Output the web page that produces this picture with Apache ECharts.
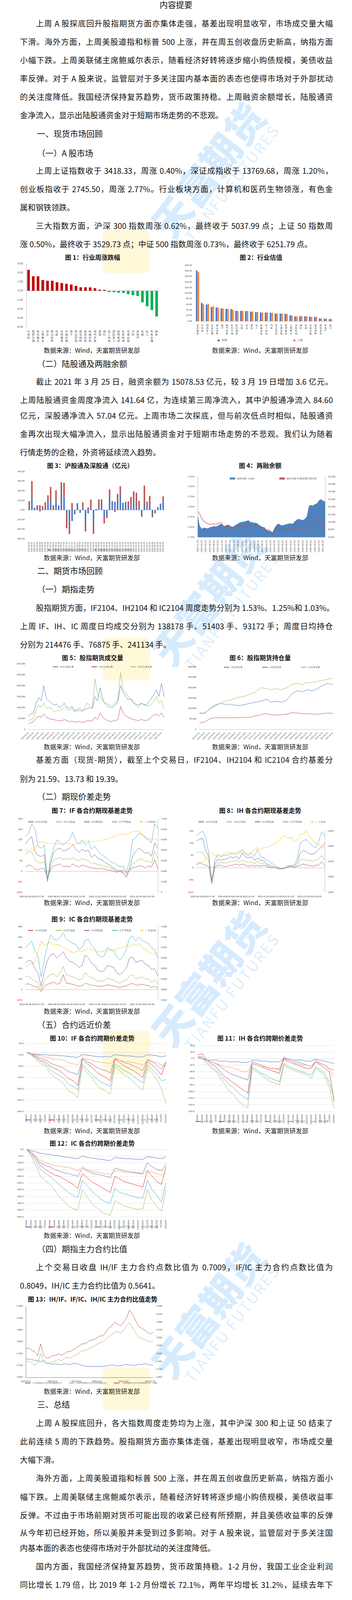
<!DOCTYPE html>
<html><head><meta charset="utf-8">
<script src="https://cdn.jsdelivr.net/npm/echarts@6/dist/echarts.min.js"></script>
<style>
html,body{margin:0;padding:0;background:#fff;}
body{position:relative;width:901px;height:5043px;overflow:hidden;font-family:"Noto Sans CJK SC","Noto Sans",sans-serif;color:#111;}
.ln{position:absolute;left:51px;width:801px;height:30px;line-height:30px;font-size:20px;white-space:nowrap;box-sizing:border-box;z-index:2;}
.j{text-align:justify;text-align-last:justify;}
.ind{padding-left:41px;}
.h{left:95px;width:auto;}
.cap{font-size:16px;font-weight:bold;text-align:center;width:440px;}
.src{font-size:16px;text-align:center;width:440px;}
.dis{font-size:16px;color:#555;height:24px;line-height:24px;}
.dind{padding-left:37px;}
.ch{position:absolute;z-index:1;}
.wm{position:absolute;z-index:0;pointer-events:none;}
</style></head><body>
<script>
const ind1Cats=['计算机','医药生物','纺织服装','公用事业','综合','食品饮料','传媒','休闲服务','非银金融','电子','商业贸易','建筑材料','建筑装饰','机械设备','电气设备','通信','银行','轻工制造','国防军工','家用电器','农林牧渔','交通运输','汽车','房地产','采掘','化工','有色金属','钢铁'];
const ind1Vals=[4.65,3.22,3.2,2.38,2.22,2.22,1.9,1.72,1.55,1.38,1.08,0.78,0.78,0.75,0.58,0.25,0.2,-0.28,-0.3,-0.42,-0.48,-0.75,-0.98,-1.15,-2.55,-3.42,-4.25,-5.7];
const ind2Cats=['休闲服务','计算机','国防军工','有色金属','食品饮料','电子','电气设备','医药生物','纺织服装','传媒','综合','通信','化工','机械设备','轻工制造','汽车','商业贸易','交通运输','家用电器','公用事业','农林牧渔','钢铁','采掘','非银金融','建筑材料','建筑装饰','房地产','银行'];
const peNow=[181,65,59,50,49,45,44,43,37,37,36,34,32,31,31,30,27,27,26,21,17,17,17,16,15,9.5,8.5,7.5];
const pePrev=[175,61,62,54,48,45,44,41,36,36,36,34,33,31,31,30,27,27,26,20,17,18,17,15,15,9.5,9,7.5];

const hsgtDates=['2020-04-03','2020-04-10','2020-04-17','2020-04-24','2020-04-30','2020-05-08','2020-05-15','2020-05-22','2020-05-29','2020-06-05','2020-06-12','2020-06-19','2020-06-24','2020-07-03','2020-07-10','2020-07-17','2020-07-24','2020-07-31','2020-08-07','2020-08-14','2020-08-21','2020-08-28','2020-09-04','2020-09-11','2020-09-18','2020-09-25','2020-09-30','2020-10-16','2020-10-23','2020-10-30','2020-11-06','2020-11-13','2020-11-20','2020-11-27','2020-12-04','2020-12-11','2020-12-18','2020-12-25','2020-12-31','2021-01-08','2021-01-15','2021-01-22','2021-01-29','2021-02-05','2021-02-10','2021-02-19','2021-02-26','2021-03-05','2021-03-12','2021-03-19','2021-03-26'];
const hgtVals=[42,125,18,18,-15,0,28,78,118,0,92,47,178,138,-40,-155,-115,-45,70,-30,18,-135,-35,33,-130,-5,20,72,-70,-55,125,75,85,115,165,75,80,48,25,105,42,10,-55,75,15,42,-50,-5,30,62,85];
const sgtVals=[50,175,5,30,50,40,52,75,122,50,112,0,110,145,-150,-95,72,0,0,0,60,-88,28,75,-118,10,90,38,-70,-30,88,18,-20,52,82,-5,5,40,110,88,138,85,-15,178,72,105,-25,-30,0,5,57];

const marginMonths=['2015-12','2016-01','2016-02','2016-03','2016-04','2016-05','2016-06','2016-07','2016-08','2016-09','2016-10','2016-11','2016-12','2017-01','2017-02','2017-03','2017-04','2017-05','2017-06','2017-07','2017-08','2017-09','2017-10','2017-11','2017-12','2018-01','2018-02','2018-03','2018-04','2018-05','2018-06','2018-07','2018-08','2018-09','2018-10','2018-11','2018-12','2019-01','2019-02','2019-03','2019-04','2019-05','2019-06','2019-07','2019-08','2019-09','2019-10','2019-11','2019-12','2020-01','2020-02','2020-03','2020-04','2020-05','2020-06','2020-07','2020-08','2020-09','2020-10','2020-11','2020-12','2021-01','2021-02','2021-03'];
const marginBal=[11800,9000,8200,8500,8400,8300,8600,8700,8900,8800,9000,9400,9400,8900,9100,9300,9000,8700,8900,9300,9600,9900,10000,10100,10200,10500,10000,9900,9800,9800,9400,9000,8700,8600,7900,7700,7550,7300,8400,9200,9600,9200,9100,9300,9400,9600,9600,9500,10100,10600,10800,10600,10500,10800,11500,14200,14500,14300,14700,14900,15700,16000,15600,15400];
const marginRatio=[2.98,2.85,2.62,2.49,2.42,2.36,2.33,2.33,2.36,2.33,2.36,2.42,2.39,2.19,2.23,2.26,2.16,2.09,2.13,2.19,2.23,2.23,2.26,2.26,2.23,2.26,2.29,2.33,2.29,2.26,2.23,2.19,2.16,2.13,2.06,2.06,2.03,1.83,2.06,2.16,2.09,2.06,2.06,2.09,2.09,2.11,2.09,2.11,2.16,2.26,2.16,2.13,2.16,2.13,2.16,2.36,2.39,2.39,2.42,2.39,2.39,2.42,2.26,2.42];

const futMonths=['2019-01','2019-02','2019-03','2019-04','2019-05','2019-06','2019-07','2019-08','2019-09','2019-10','2019-11','2019-12','2020-01','2020-02','2020-03','2020-04','2020-05','2020-06','2020-07','2020-08','2020-09','2020-10','2020-11','2020-12','2021-01','2021-02','2021-03'];
const volIF=[60,70,75,120,145,130,200,140,130,120,110,115,100,105,120,100,95,105,85,90,95,85,90,95,100,95,150,130,190,140,115,105,100,100,110,130,200,170,150,135,140,120,115,110,120,115,110,125,140,160,180,150,210,150];
const volIH=[25,30,35,50,60,55,70,55,50,45,45,40,40,38,45,40,35,38,32,35,35,32,33,40,38,40,55,45,75,55,45,40,35,38,40,45,105,75,60,55,50,45,42,40,45,42,40,45,55,65,70,60,75,55];
const volIC=[40,45,50,90,110,100,120,95,100,95,80,85,85,90,100,90,85,95,80,85,85,80,100,120,110,100,230,160,150,130,120,115,110,110,120,140,260,180,170,150,140,130,110,100,120,110,110,105,115,130,150,120,130,95];
const oiIF=[80,75,100,115,125,120,120,115,115,120,125,130,135,145,130,135,130,140,170,185,180,190,185,195,210,220,215];
const oiIH=[30,35,50,55,55,55,55,55,57,57,58,65,70,75,70,68,70,72,80,78,76,74,74,72,75,78,76];
const oiIC=[75,80,95,110,125,135,140,150,155,160,170,180,200,195,190,195,190,200,215,220,215,225,225,230,235,240,245];

const weekDates=['2020-06-05','2020-06-12','2020-06-19','2020-06-26','2020-07-03','2020-07-10','2020-07-17','2020-07-24','2020-07-31','2020-08-07','2020-08-14','2020-08-21','2020-08-28','2020-09-04','2020-09-11','2020-09-18','2020-09-25','2020-10-02','2020-10-09','2020-10-16','2020-10-23','2020-10-30','2020-11-06','2020-11-13','2020-11-20','2020-11-27','2020-12-04','2020-12-11','2020-12-18','2020-12-25','2021-01-01','2021-01-08','2021-01-15','2021-01-22','2021-01-29','2021-02-05','2021-02-12','2021-02-19','2021-02-26','2021-03-05','2021-03-12','2021-03-19','2021-03-26'];
const ifB1=[20,30,25,10,5,15,10,-30,5,25,30,35,20,25,20,35,25,20,30,25,20,15,15,10,15,10,5,5,0,-5,0,5,-10,5,15,20,25,25,15,25,20,55,10];
const ifB2=[75,95,90,60,40,40,45,-40,20,55,60,65,55,60,55,65,55,50,60,55,50,35,40,30,30,25,20,15,10,0,0,-5,-20,5,35,45,55,60,45,50,40,95,60];
const ifB3=[130,150,165,95,75,70,80,-50,40,90,105,110,95,100,110,125,105,90,105,95,100,65,80,60,55,45,35,25,15,5,0,-10,-30,10,75,95,110,100,85,90,70,135,110];
const ifB4=[165,180,225,205,120,110,125,-40,60,110,150,135,125,140,150,185,145,130,150,125,140,105,120,95,80,70,60,45,40,30,20,25,-5,45,150,160,180,175,160,150,135,225,205];
const hs300=[4000,4050,4100,4150,4700,4800,4700,4650,4650,4700,4600,4650,4600,4650,4600,4550,4600,4700,4650,4850,4900,4800,4850,4850,4950,5000,5100,5200,5300,5450,5500,5600,5450,5650,5800,5750,5850,5550,5300,5100,5050,5050,4950];
const ihB1=[10,20,15,10,5,-65,0,10,10,5,5,10,10,15,10,15,10,5,10,5,10,5,10,5,0,0,0,-5,-5,0,5,5,0,5,10,15,10,10,5,10,10,25,10];
const ihB2=[60,65,60,40,30,-60,5,20,20,20,20,25,25,30,25,30,25,20,25,15,25,15,20,10,5,0,0,0,-5,0,0,5,0,10,30,35,30,30,25,30,35,50,30];
const ihB3=[110,115,120,70,45,-50,15,35,30,35,35,45,40,45,35,60,45,40,45,30,40,30,30,15,10,5,0,-5,-5,0,5,5,5,20,60,70,65,55,55,60,75,85,100];
const ihB4=[130,140,150,125,60,-60,30,55,45,50,50,55,60,55,60,75,55,50,60,45,75,45,40,30,25,15,5,0,-5,-5,5,10,10,35,100,110,115,100,90,80,105,145,130];
const sz50=[2950,2980,3000,3050,3250,3300,3200,3150,3150,3250,3300,3300,3250,3300,3350,3300,3300,3250,3300,3400,3450,3400,3450,3450,3500,3550,3600,3700,3800,3850,3750,3800,3650,3700,3900,3900,4000,3800,3700,3600,3550,3500,3450];
const icB1=[50,55,40,30,20,-20,30,50,60,70,50,60,140,60,55,50,40,30,35,60,50,40,40,30,30,35,45,40,35,25,20,30,35,50,60,40,45,50,40,40,20,30,15];
const icB2=[120,130,100,80,60,0,80,120,140,150,120,160,220,140,130,120,110,90,100,160,130,110,100,80,80,85,110,100,90,70,60,80,90,130,140,100,110,120,100,100,70,90,60];
const icB3=[250,280,270,200,160,30,170,280,330,340,300,330,360,300,270,260,240,210,230,330,300,250,230,180,170,180,230,220,210,160,140,170,200,300,310,260,270,280,240,230,190,200,130];
const icB4=[400,430,460,370,320,120,280,420,520,480,470,500,540,480,460,440,430,380,400,470,480,420,390,330,310,320,400,380,370,310,280,320,380,490,510,460,500,470,450,440,400,380,300];
const zz500=[5600,5650,5750,5800,6300,6800,6600,6700,6750,6650,6650,6600,6500,6450,6350,6250,6300,6350,6300,6400,6450,6400,6350,6300,6300,6350,6400,6350,6350,6450,6500,6500,6600,6550,6700,6600,6700,6500,6400,6300,6200,6200,6300];

const sprDates=['2020/1/2','2020/1/16','2020/2/6','2020/2/20','2020/3/5','2020/3/19','2020/4/2','2020/4/16','2020/4/30','2020/5/14','2020/5/28','2020/6/11','2020/6/24','2020/7/9','2020/7/23','2020/8/6','2020/8/20','2020/9/3','2020/9/17','2020/10/9','2020/10/22','2020/11/5','2020/11/19','2020/12/3','2020/12/17','2020/12/31','2021/1/14','2021/1/28','2021/2/18','2021/3/4','2021/3/24'];
const sprNames=['次月-当月','当季-当月','下季-当月','当季-次月','下季-次月','下季-当季'];
const ifSpr=[
[0,-5,-8,-10,-10,-12,-12,-15,-15,-18,-20,-22,-10,-12,-15,-18,-20,-18,-20,-10,-12,-15,-15,-18,-20,-20,-10,-12,-15,-20,-15],
[0,-10,-20,-35,-40,-60,-70,-80,-95,-115,-125,-145,-30,-50,-65,-85,-100,-110,-125,-30,-45,-60,-70,-80,-95,-110,-40,-55,-75,-100,-45],
[0,-10,-30,-50,-60,-90,-110,-120,-140,-170,-180,-200,-60,-90,-110,-140,-160,-170,-185,-60,-80,-100,-110,-130,-150,-165,-70,-90,-120,-160,-225],
[0,-5,-15,-25,-30,-45,-55,-60,-70,-85,-90,-100,-25,-40,-50,-65,-75,-80,-90,-25,-35,-45,-50,-60,-70,-80,-30,-40,-55,-75,-40],
[0,-10,-25,-40,-50,-75,-90,-100,-115,-140,-150,-165,-50,-75,-95,-115,-130,-140,-150,-50,-65,-80,-90,-105,-120,-135,-55,-75,-95,-125,-120],
[0,-5,-10,-15,-20,-25,-30,-30,-35,-45,-50,-55,-25,-30,-35,-40,-45,-45,-50,-30,-35,-40,-40,-45,-50,-55,-35,-40,-45,-55,-60]];
const ihSpr=[
[5,0,-5,-5,-5,-8,-8,-10,-10,-10,-12,-12,-5,-5,-8,-8,-10,-10,-10,0,-2,-5,-5,-5,-8,-8,-2,-5,-8,-12,-15],
[10,15,-5,-15,-25,-40,-55,-65,-75,-85,-95,-105,-15,-20,-25,-30,-35,-40,-45,0,-10,-15,-20,-25,-30,-30,-10,-20,-30,-40,-130],
[5,0,-15,-30,-40,-60,-80,-100,-110,-130,-140,-150,-30,-40,-50,-60,-70,-75,-80,-20,-30,-35,-40,-45,-50,-60,-30,-40,-55,-90,-150],
[5,5,-5,-10,-15,-25,-35,-45,-50,-55,-60,-65,-10,-15,-20,-25,-30,-30,-35,5,-5,-10,-10,-15,-20,-25,-5,-15,-20,-30,-35],
[5,0,-10,-25,-35,-50,-65,-80,-90,-105,-115,-125,-25,-35,-45,-50,-60,-65,-70,-15,-25,-30,-35,-40,-45,-50,-25,-35,-45,-75,-120],
[0,0,-5,-10,-15,-20,-25,-25,-30,-35,-40,-40,-15,-20,-25,-25,-30,-30,-30,-5,-10,-15,-15,-20,-20,-25,-10,-15,-20,-35,-55]];
const icSpr=[
[0,-10,-20,-30,-35,-40,-45,-50,-55,-60,-65,-70,-50,-60,-65,-70,-75,-80,-85,-60,-65,-70,-70,-72,-75,-75,-55,-60,-65,-70,-55],
[0,-30,-70,-120,-150,-170,-190,-200,-220,-240,-260,-290,-180,-210,-240,-260,-280,-300,-320,-200,-220,-240,-250,-260,-270,-280,-160,-200,-240,-260,-130],
[0,-50,-120,-200,-230,-260,-300,-350,-380,-420,-440,-450,-300,-350,-400,-430,-460,-480,-490,-380,-400,-420,-430,-440,-445,-440,-300,-380,-420,-460,-300],
[0,-20,-60,-100,-120,-130,-150,-160,-175,-180,-190,-200,-140,-160,-175,-185,-190,-200,-210,-140,-150,-160,-165,-170,-175,-180,-100,-130,-150,-160,-110],
[0,-40,-90,-150,-180,-200,-230,-260,-290,-320,-340,-360,-230,-270,-310,-340,-370,-390,-400,-290,-320,-330,-340,-350,-360,-360,-230,-300,-340,-390,-250],
[0,-20,-50,-80,-100,-110,-120,-125,-130,-135,-145,-160,-130,-150,-160,-170,-175,-180,-185,-160,-165,-170,-175,-175,-180,-185,-160,-170,-180,-190,-175]];

const ratioDates=['2020-05-22','2020-05-29','2020-06-05','2020-06-12','2020-06-19','2020-06-26','2020-07-03','2020-07-10','2020-07-17','2020-07-22','2020-07-31','2020-08-07','2020-08-14','2020-08-21','2020-08-28','2020-09-04','2020-09-11','2020-09-22','2020-09-30','2020-10-16','2020-10-23','2020-10-30','2020-11-06','2020-11-13','2020-11-22','2020-11-27','2020-12-04','2020-12-11','2020-12-18','2020-12-25','2021-01-01','2021-01-08','2021-01-15','2021-01-22','2021-01-29','2021-02-05','2021-02-10','2021-02-19','2021-02-26','2021-03-05','2021-03-12','2021-03-19','2021-03-22','2021-03-26'];
const ratioTicks=['2020-05-22','2020-07-22','2020-09-22','2020-11-22','2021-01-22','2021-03-22'];
const ihIf=[0.728,0.727,0.725,0.722,0.72,0.715,0.722,0.712,0.708,0.705,0.707,0.705,0.703,0.708,0.705,0.703,0.71,0.708,0.705,0.7,0.698,0.695,0.696,0.697,0.695,0.697,0.695,0.698,0.7,0.703,0.7,0.698,0.7,0.702,0.705,0.703,0.7,0.7,0.705,0.703,0.708,0.705,0.702,0.701];
const ifIc=[0.715,0.72,0.71,0.7,0.71,0.75,0.715,0.705,0.71,0.715,0.72,0.725,0.72,0.73,0.735,0.73,0.74,0.745,0.755,0.76,0.765,0.77,0.775,0.78,0.79,0.795,0.8,0.81,0.82,0.83,0.84,0.845,0.835,0.85,0.865,0.88,0.86,0.84,0.82,0.815,0.81,0.805,0.8,0.805];
const ihIc=[0.522,0.525,0.518,0.515,0.505,0.535,0.505,0.498,0.5,0.505,0.505,0.51,0.505,0.51,0.515,0.515,0.52,0.525,0.53,0.535,0.535,0.54,0.545,0.545,0.55,0.555,0.555,0.565,0.575,0.58,0.59,0.585,0.58,0.59,0.6,0.62,0.61,0.595,0.58,0.575,0.57,0.565,0.56,0.5641];

const T=[
[11,'内容提要','title'],
[60,'上周 A 股探底回升股指期货方面亦集体走强，基差出现明显收窄，市场成交量大幅','ji'],
[107,'下滑。海外方面，上周美股道指和标普 500 上涨，并在周五创收盘历史新高，纳指方面','j'],
[154,'小幅下跌。上周美联储主席鲍威尔表示，随着经济好转将逐步缩小购债规模，美债收益','j'],
[201,'率反弹。对于 A 股来说，监管层对于多关注国内基本面的表态也使得市场对于外部扰动','j'],
[248,'的关注度降低。我国经济保持复苏趋势，货币政策持稳。上周融资余额增长，陆股通资','j'],
[295,'金净流入，显示出陆股通资金对于短期市场走势的不悲观。','l'],
[341,'一、现货市场回顾','h'],
[391,'（一）A 股市场','h'],
[437,'上周上证指数收于 3418.33，周涨 0.40%，深证成指收于 13769.68，周涨 1.20%，','ji'],
[484,'创业板指收于 2745.50，周涨 2.77%。行业板块方面，计算机和医药生物领涨，有色金','j'],
[531,'属和钢铁领跌。','l'],
[578,'三大指数方面，沪深 300 指数周涨 0.62%，最终收于 5037.99 点；上证 50 指数周','ji'],
[625,'涨 0.50%，最终收于 3529.73 点；中证 500 指数周涨 0.73%，最终收于 6251.79 点。','l'],
[658,'图 1：行业周涨跌幅','cap',237],[658,'图 2：行业估值','cap',668],
[896,'数据来源：Wind，天富期货研发部','src',235],[896,'数据来源：Wind，天富期货研发部','src',666],
[930,'（二）陆股通及两融余额','h'],
[977,'截止 2021 年 3 月 25 日，融资余额为 15078.53 亿元，较 3 月 19 日增加 3.6 亿元。','ji'],
[1024,'上周陆股通资金周度净流入 141.64 亿，为连续第三周净流入，其中沪股通净流入 84.60','j'],
[1064,'亿元，深股通净流入 57.04 亿元。上周市场二次探底，但与前次低点时相似，陆股通资','j'],
[1111,'金再次出现大幅净流入，显示出陆股通资金对于短期市场走势的不悲观。我们认为随着','j'],
[1158,'行情走势的企稳，外资将延续流入趋势。','l'],
[1191,'图 3：沪股通及深股通（亿元）','cap',231],[1191,'图 4：两融余额','cap',666],
[1427,'数据来源：Wind，天富期货研发部','src',235],[1427,'数据来源：Wind，天富期货研发部','src',666],
[1460,'二、期货市场回顾','h'],
[1507,'（一）期指走势','h'],
[1556,'股指期货方面，IF2104、IH2104 和 IC2104 周度走势分别为 1.53%、1.25%和 1.03%。','ji'],
[1603,'上周 IF、IH、IC 周度日均成交分别为 138178 手、51403 手、93172 手；周度日均持仓','j'],
[1650,'分别为 214476 手、76875 手、241134 手。','l'],
[1683,'图 5：股指期货成交量','cap',237],[1683,'图 6：股指期货持仓量','cap',666],
[1911,'数据来源：Wind，天富期货研发部','src',235],[1911,'数据来源：Wind，天富期货研发部','src',666],
[1945,'基差方面（现货-期货），截至上个交易日，IF2104、IH2104 和 IC2104 合约基差分','ji'],
[1994,'别为 21.59、13.73 和 19.39。','l'],
[2038,'（二）期现价差走势','h'],
[2074,'图 7：IF 各合约期现基差走势','cap',236],[2074,'图 8：IH 各合约期现基差走势','cap',666],
[2310,'数据来源：Wind，天富期货研发部','src',235],[2310,'数据来源：Wind，天富期货研发部','src',666],
[2352,'图 9：IC 各合约期现基差走势','cap',236],
[2588,'数据来源：Wind，天富期货研发部','src',235],
[2622,'（五）合约远近价差','h'],
[2657,'图 10：IF 各合约跨期价差走势','cap',236],[2657,'图 11：IH 各合约跨期价差走势','cap',666],
[2894,'数据来源：Wind，天富期货研发部','src',235],[2894,'数据来源：Wind，天富期货研发部','src',666],
[2926,'图 12：IC 各合约跨期价差走势','cap',236],
[3162,'数据来源：Wind，天富期货研发部','src',235],
[3196,'（四）期指主力合约比值','h'],
[3244,'上个交易日收盘 IH/IF 主力合约点数比值为 0.7009，IF/IC 主力合约点数比值为','ji'],
[3291,'0.8049，IH/IC 主力合约比值为 0.5641。','l'],
[3325,'图 13：IH/IF、IF/IC、IH/IC 主力合约比值走势','cap',237],
[3561,'数据来源：Wind，天富期货研发部','src',235],
[3594,'三、总结','h'],
[3643,'上周 A 股探底回升，各大指数周度走势均为上涨，其中沪深 300 和上证 50 结束了','ji'],
[3690,'此前连续 5 周的下跌趋势。股指期货方面亦集体走强，基差出现明显收窄，市场成交量','j'],
[3737,'大幅下滑。','l'],
[3784,'海外方面，上周美股道指和标普 500 上涨，并在周五创收盘历史新高，纳指方面小','ji'],
[3832,'幅下跌。上周美联储主席鲍威尔表示，随着经济好转将逐步缩小购债规模，美债收益率','j'],
[3879,'反弹。不过由于市场前期对货币可能出现的收紧已经有所预期，并且美债收益率的反弹','j'],
[3924,'从今年初已经开始，所以美股并未受到过多影响。对于 A 股来说，监管层对于多关注国','j'],
[3963,'内基本面的表态也使得市场对于外部扰动的关注度降低。','l'],
[4010,'国内方面，我国经济保持复苏趋势，货币政策持稳。1-2 月份，我国工业企业利润','ji'],
[4057,'同比增长 1.79 倍，比 2019 年 1-2 月份增长 72.1%，两年平均增长 31.2%，延续去年下','j'],
[4106,'半年以来较快增长的良好态势。A 股企业盈利目前同样仍处于上行趋势。','l'],
[4153,'资金方面，上周融资余额增长，陆股通资金净流入。上周陆股通资金周度净流入','ji'],
[4199,'141.64 亿，为连续第三周净流入并且流入幅度较大，其中沪股通净流入 84.60 亿元，','j'],
[4246,'深股通净流入 57.04 亿元。上周市场二次探底，但与前次低点时相似，陆股通资金再次','j'],
[4291,'出现大幅净流入，显示出陆股通资金对于短期市场走势的不悲观。随着行情走势的企稳，','j'],
[4340,'外资将延续流入趋势。','l'],
[4388,'整体来看，目前我国经济维持复苏趋势，货币政策短期平稳，基本面并不支持 A 股','ji'],
[4435,'继续大幅下跌。而经过前期的快速调整后，目前市场整体估值也从绝对高位回落。此外','j'],
[4482,'从上周指数的二次下探来看，市场成交量继续回落并创下年内新低，也显示投资者短期','j'],
[4530,'的悲观情绪得到相对充分的释放，抛压较弱。短期在不出现超预期的重大利空影响的情','j'],
[4575,'况下，A 股有望继续反弹。后期主要关注外部市场的风险和中美关系的变化。建议投资','j'],
[4625,'者以区间操作为主，股指前多谨慎持有，仅供参考。','l'],
[4663,'免责声明','dh'],
[4698,'本报告的信息均来源于公开资料，我公司对这些信息的准确性和完整性不作任何保证，也不保证','di'],
[4722,'所包含的信息和建议不会发生任何变更。文中的观点、结论和建议仅供参考。天富期货可发出其它与','d'],
[4745,'本报告所载资料不一致及有不同结论的报告。本报告及该等报告反映编写分析员的不同设想、见解及','d'],
[4769,'分析方法。报告所载资料、意见及推测仅反映分析员于发出此报告日期当日的独立判断。','dl'],
[4793,'客户不应视本报告为作出投资决策的惟一因素。本报告中所指的投资及服务可能不适合个别客户，','di'],
[4816,'不构成客户私人咨询建议。本公司未确保本报告充分考虑到个别客户特殊的投资目标、财务状况或需','d'],
[4840,'要。本公司建议客户应考虑本报告的任何意见或建议是否符合其特定状况，以及（若有必要）咨询独','d'],
[4864,'立投资顾问。','dl'],
[4888,'在任何情况下，本报告中的信息或所表述的意见并不构成对任何人的投资建议。在任何情况下，','di'],
[4911,'本公司不对任何人因使用本报告中的任何内容所引致的损失负任何责任。','dl'],
[4935,'本报告的观点可能与资管团队的观点不同或对立，对于基于本报告全面或部分做出的交易、结果，','di'],
[4959,'不论盈利或亏损，天富期货研究发展部不承担责任。','dl'],
[4982,'本报告版权仅为天富期货有限公司所有，未经书面许可，任何机构和个人不得以任何形式翻版、','di'],
[5006,'复制和发布。如引用、刊发，需注明出处天富期货研究发展部，且不得对本报告进行有悖原意的引用、','d'],
[5030,'删节和修改。','dl']
];
const wmTops=[300,1395,2370,3220,4230];
const yellowTops=[589,1632,2640,3500,4527];
</script>
<script>
wmTops.forEach(t=>{
  const a=document.createElement('div');a.className='wm';
  a.style.cssText=`left:330px;top:${t+60}px;font-size:100px;font-weight:900;color:rgba(90,175,250,0.25);transform:rotate(-52deg);transform-origin:center;white-space:nowrap;`;
  a.textContent='天富期货';document.body.appendChild(a);
  const b=document.createElement('div');b.className='wm';
  b.style.cssText=`left:410px;top:${t+140}px;font-size:38px;color:rgba(90,175,250,0.22);transform:rotate(-52deg);white-space:nowrap;letter-spacing:4px;`;
  b.textContent='TIANFU FUTURES';document.body.appendChild(b);
});
yellowTops.forEach(t=>{
  const y=document.createElement('div');y.className='wm';
  y.style.cssText=`left:263px;top:${t}px;width:122px;height:110px;border-radius:14px;background:rgba(255,240,160,0.4);`;
  document.body.appendChild(y);
});
T.forEach(r=>{
  const [c,txt,k,cx]=r;const d=document.createElement('div');d.textContent=txt;
  if(k==='title'){d.style.cssText=`position:absolute;left:0;width:901px;text-align:center;top:${c-13}px;font-size:21px;line-height:26px;z-index:2;`;}
  else if(k==='h'){d.className='ln h';d.style.top=(c-15)+'px';d.style.fontSize='21px';}
  else if(k==='cap'){d.className='ln cap';d.style.left=(cx-220)+'px';d.style.top=(c-15)+'px';}
  else if(k==='src'){d.className='ln src';d.style.left=(cx-220)+'px';d.style.top=(c-15)+'px';}
  else if(k==='dh'){d.className='ln h';d.style.top=(c-15)+'px';d.style.fontSize='19px';d.style.letterSpacing='3px';d.style.fontWeight='bold';}
  else if(k[0]==='d'){d.className='ln dis'+(k==='dl'?'':' j')+(k==='di'?' dind':'');d.style.top=(c-12)+'px';}
  else {d.className='ln'+(k==='l'?'':' j')+(k==='ji'?' ind':'');d.style.top=(c-15)+'px';}
  document.body.appendChild(d);
});

const AL={fontSize:7,color:'#404040'};
function mk(l,t,w,h,opt){
  const d=document.createElement('div');d.className='ch';
  d.style.cssText=`left:${l}px;top:${t}px;width:${w}px;height:${h}px;`;
  document.body.appendChild(d);
  const c=echarts.init(d,null,{renderer:'canvas'});opt.animation=false;
  try{c.setOption(opt);}catch(e){console.log(e);} return c;
}
const vert=v=>v.split('').join('\n');
const lineS=(name,data,color,extra)=>Object.assign({name,type:'line',data,symbol:'none',lineStyle:{width:1,color},itemStyle:{color}},extra||{});

mk(40,668,375,212,{
  grid:{left:24,right:8,top:7,bottom:43},
  xAxis:{type:'category',data:ind1Cats,axisLine:{show:false},axisTick:{show:false},
    axisLabel:{fontSize:7,color:'#404040',interval:0,formatter:vert,lineHeight:8,margin:8}},
  yAxis:{type:'value',min:-8,max:6,interval:2,axisLine:{show:true,lineStyle:{color:'#bfbfbf'}},splitLine:{show:false},
    axisLabel:Object.assign({formatter:v=>v.toFixed(2)},AL)},
  series:[{type:'bar',barWidth:'55%',data:ind1Vals.map(v=>({value:v,itemStyle:{color:v>=0?'#C00000':'#00B050'}})),
    markLine:{silent:true,symbol:'none',label:{show:false},lineStyle:{color:'#a6a6a6',type:'solid',width:1},data:[{yAxis:0}]}}]
});
mk(470,672,392,210,{
  grid:{left:21,right:10,top:7,bottom:60},
  legend:{bottom:2,left:'center',itemGap:170,itemWidth:5,itemHeight:5,textStyle:{fontSize:7},data:['本期','上期']},
  xAxis:{type:'category',data:ind2Cats,axisLine:{lineStyle:{color:'#bfbfbf'}},axisTick:{show:false},
    axisLabel:{fontSize:6,color:'#404040',interval:0,formatter:vert,lineHeight:7}},
  yAxis:{type:'value',min:0,max:200,interval:20,axisLine:{show:false},splitLine:{show:false},axisLabel:{fontSize:6,color:'#404040',formatter:v=>v.toFixed(2)}},
  series:[{name:'本期',type:'bar',data:peNow,itemStyle:{color:'#4472C4'},barGap:'15%',barCategoryGap:'35%'},
          {name:'上期',type:'bar',data:pePrev,itemStyle:{color:'#ED7D31'}}]
});
mk(40,1198,385,218,{
  grid:{left:24,right:4,top:9,bottom:21},
  legend:{bottom:0,itemWidth:4,itemHeight:4,itemGap:20,textStyle:{fontSize:6},data:['沪股通:当日资金净流入(人民币)亿','深股通:当日资金净流入(人民币)亿']},
  xAxis:{type:'category',data:hsgtDates,axisLine:{lineStyle:{color:'#bfbfbf'}},axisTick:{show:false},
    axisLabel:{fontSize:5,color:'#404040',rotate:90,interval:0}},
  yAxis:{type:'value',min:-300,max:400,interval:100,axisLine:{show:false},splitLine:{show:false},axisLabel:{fontSize:6,color:'#404040',formatter:v=>v.toFixed(2)}},
  series:[{name:'沪股通:当日资金净流入(人民币)亿',type:'bar',stack:'a',data:hgtVals,itemStyle:{color:'#4472C4'},barWidth:'55%'},
          {name:'深股通:当日资金净流入(人民币)亿',type:'bar',stack:'a',data:sgtVals,itemStyle:{color:'#C0504D'}}]
});
mk(478,1205,385,212,{
  grid:{left:25,right:31,top:15,bottom:42},
  legend:{top:12,left:105,itemGap:60,itemWidth:14,itemHeight:5,textStyle:{fontSize:6},
    data:[{name:'融资余额（右轴）',icon:'rect'},{name:'融资余额与A股流通市值比例',icon:'rect'}]},
  xAxis:{type:'category',boundaryGap:false,data:marginMonths.map(m=>m+'-25'),axisLine:{lineStyle:{color:'#bfbfbf'}},axisTick:{show:false},
    axisLabel:{fontSize:6,color:'#404040',rotate:90,interval:1}},
  yAxis:[{type:'value',min:1.7,max:4.7,interval:0.5,axisLine:{show:true,lineStyle:{color:'#bfbfbf'}},splitLine:{show:false},axisLabel:{fontSize:6,color:'#404040',formatter:v=>v.toFixed(2)+'%'}},
         {type:'value',min:6000,max:22000,interval:2000,axisLine:{show:true,lineStyle:{color:'#bfbfbf'}},splitLine:{show:false},axisLabel:{fontSize:6,color:'#404040'}}],
  series:[{name:'融资余额（右轴）',type:'line',yAxisIndex:1,data:marginBal,symbol:'none',lineStyle:{width:0},areaStyle:{color:'#4F81BD',opacity:1},itemStyle:{color:'#4F81BD'}},
          lineS('融资余额与A股流通市值比例',marginRatio,'#C0504D',{yAxisIndex:0,lineStyle:{width:1.2,color:'#C0504D'}})]
});
const volCats=[];futMonths.forEach(m=>{volCats.push(m+'-02');volCats.push(m+'-16');});
mk(40,1693,385,210,{
  grid:{left:26,right:5,top:6,bottom:36},
  legend:{top:6,left:90,itemGap:45,itemWidth:14,itemHeight:2,icon:'rect',textStyle:{fontSize:6}},
  xAxis:{type:'category',boundaryGap:false,data:volCats,axisLine:{lineStyle:{color:'#bfbfbf'}},axisTick:{show:false},
    axisLabel:{fontSize:5,color:'#404040',rotate:45,interval:1}},
  yAxis:{type:'value',min:0,max:300,interval:50,axisLine:{show:false},splitLine:{show:false},axisLabel:{fontSize:6,color:'#404040',formatter:v=>v===0?'0':v+',000'}},
  series:[lineS('IF日总成交量',volIF,'#4F81BD'),lineS('IH日总成交量',volIH,'#C0504D'),lineS('IC日总成交量',volIC,'#9BBB59')]
});
mk(478,1700,385,205,{
  grid:{left:25,right:11,top:7,bottom:38},
  legend:{top:0,left:90,itemGap:50,itemWidth:14,itemHeight:2,icon:'rect',textStyle:{fontSize:6}},
  xAxis:{type:'category',boundaryGap:false,data:futMonths.map(m=>m+'-01'),axisLine:{lineStyle:{color:'#bfbfbf'}},axisTick:{show:false},
    axisLabel:{fontSize:5,color:'#404040',rotate:45,interval:0}},
  yAxis:{type:'value',min:0,max:300,interval:50,axisLine:{show:false},splitLine:{show:false},axisLabel:{fontSize:6,color:'#404040',formatter:v=>v===0?'0':v+',000'}},
  series:[lineS('IF总持仓量',oiIF,'#4F81BD'),lineS('IH总持仓量',oiIH,'#C0504D'),lineS('IC总持仓量',oiIC,'#9BBB59')]
});
const monthFirst=(i)=>i===0||(weekDates[i]&&weekDates[i-1]&&weekDates[i].slice(0,7)!==weekDates[i-1].slice(0,7));
function basis(l,t,w,h,grid,pre,b,idx,idxName,ymin,ymax,yint,rmin,rmax,rint){
  const g={left:grid.left,right:grid.right,top:grid.top,bottom:grid.bottom};
  return mk(l,t,w,h,{
    grid:g,
    legend:{top:grid.legendTop,left:'center',itemGap:22,itemWidth:14,itemHeight:2,textStyle:{fontSize:6},
      data:[pre+'当月基差',pre+'次月基差',pre+'当季基差',pre+'下季基差',idxName]},
    xAxis:{type:'category',boundaryGap:false,data:weekDates,axisLine:{onZero:true,lineStyle:{color:'#bfbfbf'}},axisTick:{show:false},
      axisLabel:{fontSize:6,color:'#404040',interval:monthFirst,formatter:v=>String(v).slice(0,7)+'-05'}},
    yAxis:[{type:'value',min:ymin,max:ymax,interval:yint,axisLine:{show:false},splitLine:{show:false},
      axisLabel:{fontSize:6,formatter:v=>v<0?'('+(-v)+')':''+v,color:v=>v<0?'#ff0000':'#404040'}},
      {type:'value',min:rmin,max:rmax,interval:rint,axisLine:{show:true,lineStyle:{color:'#bfbfbf'}},splitLine:{show:false},axisLabel:{fontSize:6,color:'#404040'}}],
    series:[lineS(pre+'当月基差',b[0],'#C0504D'),lineS(pre+'次月基差',b[1],'#9BBB59'),lineS(pre+'当季基差',b[2],'#8064A2'),lineS(pre+'下季基差',b[3],'#4BACC6'),
      lineS(idxName,idx,'#FFC000',{yAxisIndex:1,lineStyle:{width:1.2,color:'#FFC000',type:'dashed'}})]
  });
}
basis(40,2092,390,206,{left:21,right:25,top:4,bottom:6,legendTop:4},'IF',[ifB1,ifB2,ifB3,ifB4],hs300,'沪深300',-100,250,50,0,7000,1000);
basis(478,2092,385,206,{left:16,right:32,top:35,bottom:5,legendTop:4},'IH',[ihB1,ihB2,ihB3,ihB4],sz50,'上证50',-100,150,50,2000,4000,500);
basis(40,2366,390,208,{left:21,right:25,top:6,bottom:4,legendTop:8},'IC',[icB1,icB2,icB3,icB4],zz500,'中证500',-100,600,100,4000,7500,500);

const sprColors=['#4472C4','#E0302E','#9BBB59','#8064A2','#4BACC6','#F79646'];
function spread(l,t,w,h,grid,legBottom,data,ymin,ymax,yint){
  return mk(l,t,w,h,{
    grid,
    legend:{bottom:legBottom,left:'center',itemGap:14,itemWidth:14,itemHeight:2,icon:'rect',textStyle:{fontSize:6}},
    xAxis:{type:'category',boundaryGap:false,data:sprDates,axisLine:{onZero:true,lineStyle:{color:'#d9d9d9'}},axisTick:{show:false},
      axisLabel:{fontSize:5,color:'#404040',rotate:90,interval:0}},
    yAxis:{type:'value',min:ymin,max:ymax,interval:yint,axisLine:{show:false},splitLine:{show:true,lineStyle:{color:'#e6e6e6'}},
      axisLabel:{fontSize:6,color:'#404040',formatter:v=>v.toFixed(1)}},
    series:data.map((d,i)=>lineS(sprNames[i],d,sprColors[i]))
  });
}
spread(40,2666,390,215,{left:22,right:5,top:5,bottom:4},6,ifSpr,-260,40,50);
spread(478,2671,385,210,{left:18,right:8,top:5,bottom:17},2,ihSpr,-160,40,20);
spread(40,2937,390,214,{left:22,right:5,top:5,bottom:14},2,icSpr,-500,0,50);

mk(40,3340,390,210,{
  grid:{left:26,right:38,top:4,bottom:24},
  legend:{bottom:2,left:'center',itemGap:18,itemWidth:14,itemHeight:2,icon:'rect',textStyle:{fontSize:5}},
  xAxis:{type:'category',boundaryGap:false,data:ratioDates,axisLine:{lineStyle:{color:'#808080'}},axisTick:{show:false},
    axisLabel:{fontSize:5,color:'#404040',interval:(i)=>ratioTicks.includes(ratioDates[i])}},
  yAxis:[{type:'value',min:0.65,max:0.95,interval:0.05,axisLine:{show:true,lineStyle:{color:'#808080'}},splitLine:{show:false},axisLabel:{fontSize:5,color:'#404040',formatter:v=>v.toFixed(4)}},
         {type:'value',min:0.45,max:0.63,interval:0.02,axisLine:{show:false},splitLine:{show:false},axisLabel:{fontSize:5,color:'#404040',formatter:v=>v.toFixed(4)}}],
  series:[lineS('上证50期指主力/沪深300期指主力',ihIf,'#4472C4'),lineS('沪深300期指主力/中证500期指主力',ifIc,'#9BBB59'),
          lineS('上证50期指主力/中证500期指主力（右轴）',ihIc,'#C0504D',{yAxisIndex:1})]
});
</script>
</body></html>
